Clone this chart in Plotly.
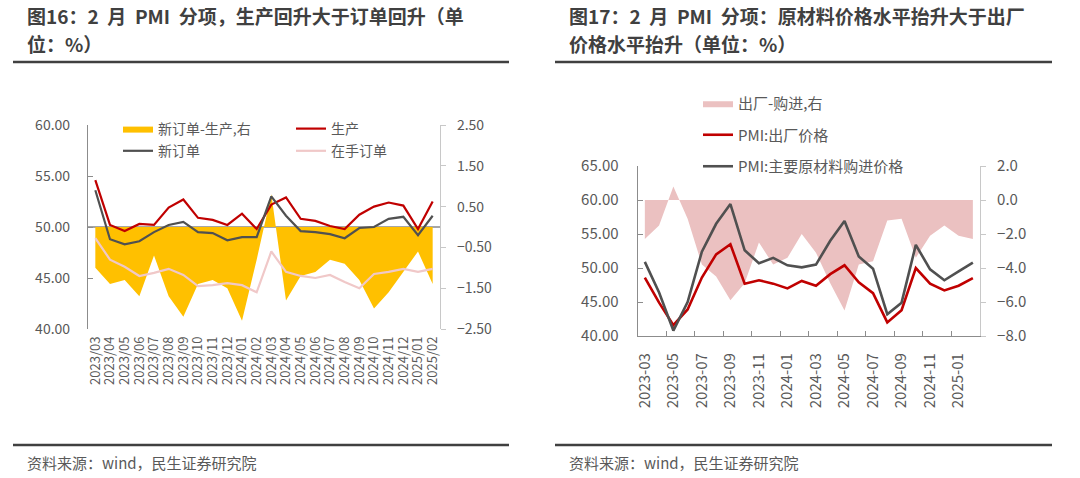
import plotly.graph_objects as go

# ---------------- data: left panel ----------------
months_left = ["2023/03", "2023/04", "2023/05", "2023/06", "2023/07", "2023/08",
               "2023/09", "2023/10", "2023/11", "2023/12", "2024/01", "2024/02",
               "2024/03", "2024/04", "2024/05", "2024/06", "2024/07", "2024/08",
               "2024/09", "2024/10", "2024/11", "2024/12", "2025/01", "2025/02"]
production = [54.6, 50.2, 49.6, 50.3, 50.2, 51.9, 52.7, 50.9, 50.7, 50.2, 51.3, 49.8,
              52.2, 52.9, 50.8, 50.6, 50.1, 49.8, 51.2, 52.0, 52.4, 52.1, 49.8, 52.5]
new_orders = [53.6, 48.8, 48.3, 48.6, 49.5, 50.2, 50.5, 49.5, 49.4, 48.7, 49.0, 49.0,
              53.0, 51.1, 49.6, 49.5, 49.3, 48.9, 49.9, 50.0, 50.8, 51.0, 49.2, 51.1]
backlog = [48.9, 46.8, 46.1, 45.2, 45.5, 45.9, 45.3, 44.2, 44.3, 44.5, 44.3, 43.6,
           47.6, 45.6, 45.2, 45.0, 45.3, 44.6, 44.0, 45.4, 45.6, 45.9, 45.6, 45.9]
orders_minus_prod = [-1.0, -1.4, -1.3, -1.7, -0.7, -1.7, -2.2, -1.4, -1.3, -1.5, -2.3, -0.8,
                     0.8, -1.8, -1.2, -1.1, -0.8, -0.9, -1.3, -2.0, -1.6, -1.1, -0.6, -1.4]

# ---------------- data: right panel ----------------
months_right = ["2023-03", "2023-04", "2023-05", "2023-06", "2023-07", "2023-08",
                "2023-09", "2023-10", "2023-11", "2023-12", "2024-01", "2024-02",
                "2024-03", "2024-04", "2024-05", "2024-06", "2024-07", "2024-08",
                "2024-09", "2024-10", "2024-11", "2024-12", "2025-01", "2025-02"]
output_price = [48.6, 44.9, 41.6, 43.9, 48.6, 52.0, 53.5, 47.7, 48.2, 47.7, 47.0, 48.1,
                47.4, 49.1, 50.4, 47.9, 46.3, 42.0, 43.8, 50.0, 47.7, 46.7, 47.4, 48.5]
input_price = [50.9, 46.4, 40.8, 45.0, 52.4, 56.5, 59.4, 52.6, 50.7, 51.5, 50.4, 50.1,
               50.5, 54.0, 56.9, 51.7, 49.9, 43.2, 44.9, 53.4, 49.8, 48.2, 49.5, 50.8]
output_minus_input = [-2.3, -1.5, 0.8, -1.1, -3.8, -4.5, -5.9, -4.9, -2.5, -3.8, -3.4, -2.0,
                      -3.1, -4.9, -6.5, -3.8, -3.6, -1.2, -1.1, -3.4, -2.1, -1.5, -2.1, -2.3]

title_left = ["图16：2  月  PMI  分项，生产回升大于订单回升（单", "位：%）"]
title_right = ["图17：2  月  PMI  分项：原材料价格水平抬升大于出厂", "价格水平抬升（单位：%）"]
source_text = "资料来源：wind，民生证券研究院"

FONT = "Noto Sans CJK SC"
TXT = "#595959"
W, H = 1080, 478


def px_x(v):
    return v / W


def px_y(v):
    return 1 - v / H


fig = go.Figure()

# left panel
fig.add_trace(go.Scatter(x=months_left, y=orders_minus_prod, name="新订单-生产,右",
                         mode="lines", fill="tozeroy", fillcolor="#FFC000",
                         line=dict(width=0, color="#FFC000"),
                         xaxis="x", yaxis="y", legend="legend", legendgroup="a"))
fig.add_trace(go.Scatter(x=months_left, y=production, name="生产", mode="lines",
                         line=dict(color="#C00000", width=2.2),
                         xaxis="x", yaxis="y2", legend="legend2", legendgroup="b"))
fig.add_trace(go.Scatter(x=months_left, y=new_orders, name="新订单", mode="lines",
                         line=dict(color="#505050", width=2.2),
                         xaxis="x", yaxis="y2", legend="legend", legendgroup="c"))
fig.add_trace(go.Scatter(x=months_left, y=backlog, name="在手订单", mode="lines",
                         line=dict(color="#F0C8C8", width=2.2),
                         xaxis="x", yaxis="y2", legend="legend2", legendgroup="d"))

# right panel
fig.add_trace(go.Scatter(x=months_right, y=output_minus_input, name="出厂-购进,右",
                         mode="lines", fill="tozeroy", fillcolor="#EBC1C1",
                         line=dict(width=0, color="#EBC1C1"),
                         xaxis="x2", yaxis="y3", legend="legend3", legendgroup="e"))
fig.add_trace(go.Scatter(x=months_right, y=output_price, name="PMI:出厂价格", mode="lines",
                         line=dict(color="#C00000", width=2.6),
                         xaxis="x2", yaxis="y4", legend="legend3", legendgroup="f"))
fig.add_trace(go.Scatter(x=months_right, y=input_price, name="PMI:主要原材料购进价格",
                         mode="lines", line=dict(color="#505050", width=2.6),
                         xaxis="x2", yaxis="y4", legend="legend3", legendgroup="g"))

tick_l = dict(family=FONT, size=14, color=TXT)
tick_r = dict(family=FONT, size=15, color=TXT)

fig.update_layout(
    width=W, height=H,
    margin=dict(l=0, r=0, t=0, b=0, pad=0, autoexpand=False),
    paper_bgcolor="white", plot_bgcolor="rgba(0,0,0,0)",
    font=dict(family=FONT, color=TXT),
    hovermode=False,
    # ---- left panel axes ----
    xaxis=dict(domain=[px_x(88), px_x(440)], anchor="y", type="category",
               range=[-0.5, 23.5], tickmode="array", tickvals=months_left,
               ticktext=months_left, showline=False, showgrid=False, zeroline=False,
               ticks="", tickangle=-90, tickfont=dict(family=FONT, size=13, color=TXT),
               ticklabelstandoff=4),
    yaxis=dict(domain=[px_y(329), px_y(125)], anchor="x", side="right",
               range=[-2.5, 2.5], tickvals=[-2.5, -1.5, -0.5, 0.5, 1.5, 2.5],
               tickformat=".2f", showgrid=False, zeroline=True, zerolinecolor="#A6A6A6",
               zerolinewidth=1.5, showline=True, linecolor="#C8C8C8", linewidth=1.2,
               ticks="outside", ticklen=5, tickcolor="#C8C8C8", tickfont=tick_l,
               ticklabelstandoff=8),
    yaxis2=dict(overlaying="y", anchor="x", side="left", range=[40, 60],
                tickvals=[40, 45, 50, 55, 60], tickformat=".2f", showgrid=False,
                zeroline=False, showline=True, linecolor="#8C8C8C", linewidth=1.2,
                ticks="inside", ticklen=5, tickcolor="#8C8C8C", tickfont=tick_l,
                ticklabelstandoff=14),
    # ---- right panel axes ----
    xaxis2=dict(domain=[px_x(637.7), px_x(980)], anchor="y3", type="category",
                range=[-0.5, 23.5], tickmode="linear", tick0=0, dtick=2,
                tickson="boundaries", showline=True, linecolor="#8C8C8C", linewidth=1.2,
                showgrid=False, zeroline=False, ticks="inside", ticklen=5,
                tickcolor="#8C8C8C", tickangle=-90, tickfont=tick_r,
                ticklabelstandoff=10),
    yaxis3=dict(domain=[px_y(336), px_y(166)], anchor="x2", side="right",
                range=[-8, 2], dtick=2, tickformat=".1f", showgrid=False, zeroline=False,
                showline=True, linecolor="#C8C8C8", linewidth=1.2, ticks="outside",
                ticklen=5, tickcolor="#C8C8C8", tickfont=tick_r, ticklabelstandoff=8),
    yaxis4=dict(overlaying="y3", anchor="x2", side="left", range=[40, 65], dtick=5,
                tickformat=".2f", showgrid=False, zeroline=False, showline=True,
                linecolor="#8C8C8C", linewidth=1.2, ticks="inside", ticklen=5,
                tickcolor="#8C8C8C", tickfont=tick_r, ticklabelstandoff=15),
    legend=dict(x=px_x(118), y=px_y(113), xanchor="left", yanchor="top",
                bgcolor="rgba(0,0,0,0)", font=dict(family=FONT, size=14, color=TXT),
                traceorder="grouped", tracegroupgap=1, itemwidth=30),
    legend2=dict(x=px_x(291), y=px_y(113), xanchor="left", yanchor="top",
                 bgcolor="rgba(0,0,0,0)", font=dict(family=FONT, size=14, color=TXT),
                 traceorder="grouped", tracegroupgap=1, itemwidth=30),
    legend3=dict(x=px_x(698), y=px_y(87), xanchor="left", yanchor="top",
                 bgcolor="rgba(0,0,0,0)", font=dict(family=FONT, size=15, color=TXT),
                 traceorder="grouped", tracegroupgap=9, itemwidth=30),
)

# titles, rules and source notes
for x0, x1, title in [(13, 509, title_left), (555, 1052, title_right)]:
    for line_text, yc in zip(title, (15, 43)):
        fig.add_annotation(x=px_x(x0 + 12), y=px_y(yc), xref="paper", yref="paper",
                           xanchor="left", yanchor="middle", align="left",
                           showarrow=False, text="<b>" + line_text + "</b>",
                           font=dict(family=FONT, size=19, color="#404040"))
    fig.add_annotation(x=px_x(x0 + 12), y=px_y(462), xref="paper", yref="paper",
                       xanchor="left", yanchor="middle", showarrow=False,
                       text=source_text, font=dict(family=FONT, size=15, color=TXT))
    for yy in (62, 445):
        fig.add_shape(type="line", xref="paper", yref="paper",
                      x0=px_x(x0), x1=px_x(x1), y0=px_y(yy), y1=px_y(yy),
                      line=dict(color="#404040", width=2.5))

fig.write_html("out.html", config={"displayModeBar": False},
               post_script="document.body.style.margin='0';document.body.style.overflow='hidden';")
